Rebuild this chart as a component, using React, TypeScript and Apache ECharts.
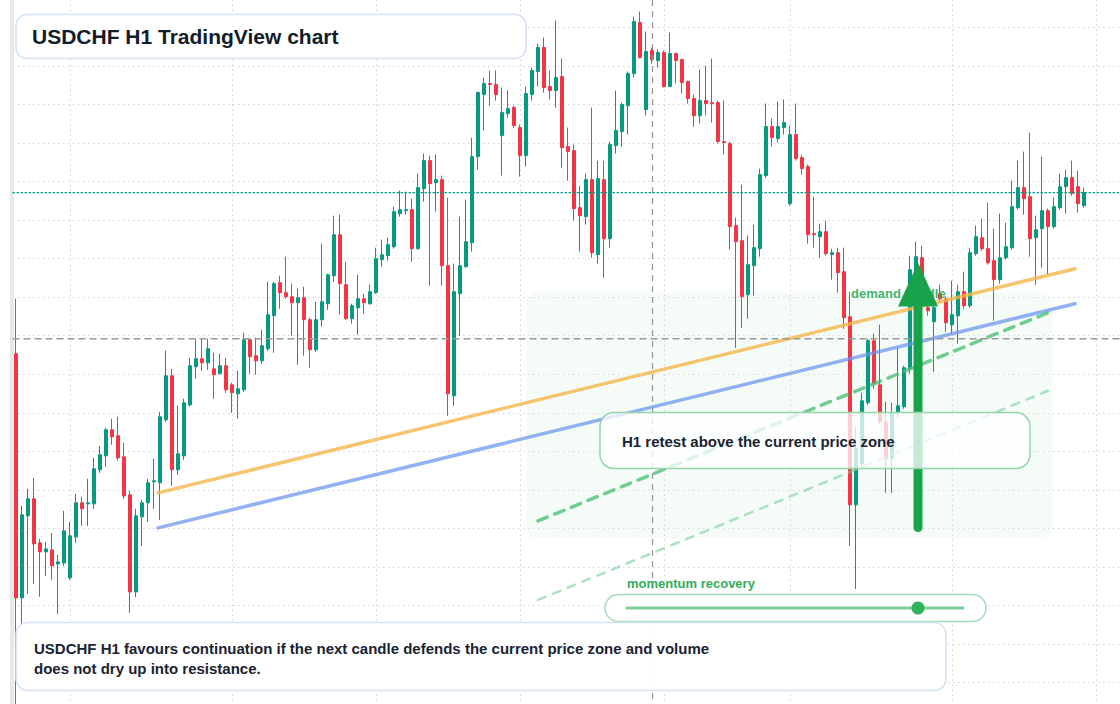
import React, { useEffect, useRef } from "react";
import * as echarts from "echarts";

// ---- candle data (USDCHF H1), one value per candle ----
const openP = [
  0.79677, 0.79433, 0.79515, 0.79532, 0.79488, 0.79479, 0.79481, 0.79467, 0.79468, 0.79453,
  0.79494, 0.79528, 0.79527, 0.79527, 0.79561, 0.79575, 0.79601, 0.79595, 0.79574, 0.79536,
  0.79439, 0.79514, 0.79528, 0.79549, 0.79548, 0.79611, 0.79655, 0.79561, 0.79575, 0.79626,
  0.79664, 0.79672, 0.79668, 0.79662, 0.79657, 0.79665, 0.79646, 0.79637, 0.79641, 0.79691,
  0.79675, 0.7967, 0.79682, 0.79715, 0.79748, 0.79738, 0.79734, 0.79728, 0.79733, 0.79711,
  0.79681, 0.79711, 0.79727, 0.79755, 0.79796, 0.79746, 0.79712, 0.79723, 0.79732, 0.79727,
  0.79738, 0.79771, 0.79775, 0.79784, 0.79817, 0.7982, 0.79821, 0.79782, 0.79842, 0.7987,
  0.79848, 0.79851, 0.79765, 0.79635, 0.79737, 0.79764, 0.79788, 0.79874, 0.79936, 0.79947,
  0.79946, 0.79895, 0.79917, 0.79923, 0.79903, 0.79875, 0.79936, 0.79959, 0.79983, 0.79944,
  0.7994, 0.79954, 0.79884, 0.7988, 0.79823, 0.79814, 0.79851, 0.79776, 0.79851, 0.79792,
  0.79885, 0.79899, 0.79925, 0.79957, 0.80008, 0.79921, 0.7998, 0.7997, 0.79978, 0.79944,
  0.79977, 0.79971, 0.79949, 0.79932, 0.79915, 0.7993, 0.79928, 0.79928, 0.79889, 0.79887,
  0.79805, 0.7979, 0.79736, 0.79765, 0.79782, 0.79855, 0.79904, 0.79892, 0.79903, 0.79827,
  0.79896, 0.79873, 0.79864, 0.79797, 0.79794, 0.79799, 0.79776, 0.79778, 0.79759, 0.79714,
  0.79526, 0.79567, 0.79628, 0.7969, 0.79646, 0.79609, 0.79572, 0.79618, 0.79624, 0.79662,
  0.7973, 0.79773, 0.79723, 0.79709, 0.79737, 0.79732, 0.79706, 0.79715, 0.79739, 0.79725,
  0.79777, 0.79793, 0.79782, 0.7977, 0.79751, 0.79773, 0.79783, 0.79823, 0.79843, 0.79834,
  0.79793, 0.79802, 0.7982, 0.79804, 0.79823, 0.79844, 0.79853, 0.79844, 0.79825,
];
const closeP = [
  0.79433, 0.79516, 0.79532, 0.79487, 0.79479, 0.79482, 0.79465, 0.79469, 0.795, 0.79495,
  0.79528, 0.79522, 0.79528, 0.79562, 0.79576, 0.79601, 0.79594, 0.79573, 0.79535, 0.79439,
  0.79515, 0.79528, 0.79548, 0.7955, 0.79614, 0.79655, 0.79561, 0.79577, 0.79628, 0.79665,
  0.79672, 0.79668, 0.79682, 0.79656, 0.79665, 0.79641, 0.79638, 0.79642, 0.79691, 0.79674,
  0.7967, 0.79685, 0.79716, 0.79747, 0.79738, 0.79734, 0.79728, 0.79733, 0.79711, 0.79681,
  0.79711, 0.79729, 0.79756, 0.79796, 0.79747, 0.79712, 0.79725, 0.79732, 0.79728, 0.79739,
  0.79772, 0.79776, 0.79786, 0.79819, 0.79821, 0.79821, 0.79782, 0.79843, 0.7987, 0.79847,
  0.79851, 0.79765, 0.79637, 0.79739, 0.79765, 0.79789, 0.79874, 0.79938, 0.79947, 0.79946,
  0.79936, 0.79918, 0.79922, 0.79905, 0.79875, 0.79937, 0.7996, 0.79983, 0.79943, 0.7994,
  0.79953, 0.79883, 0.79879, 0.79822, 0.79815, 0.79851, 0.79778, 0.79852, 0.79792, 0.79886,
  0.799, 0.79926, 0.79957, 0.80009, 0.79973, 0.79979, 0.79971, 0.79978, 0.79944, 0.79977,
  0.7997, 0.79948, 0.79932, 0.79915, 0.7993, 0.79927, 0.79927, 0.79889, 0.79888, 0.79804,
  0.79789, 0.79734, 0.79766, 0.79783, 0.79856, 0.79904, 0.79893, 0.79904, 0.79908, 0.79896,
  0.79872, 0.79862, 0.79796, 0.79796, 0.79799, 0.79777, 0.79778, 0.79758, 0.79713, 0.79526,
  0.79582, 0.7963, 0.7969, 0.79647, 0.79609, 0.79572, 0.79618, 0.79625, 0.79663, 0.79761,
  0.79774, 0.7973, 0.7972, 0.79723, 0.79732, 0.79708, 0.79716, 0.79739, 0.79725, 0.79778,
  0.79794, 0.79782, 0.79768, 0.79751, 0.79773, 0.79784, 0.79824, 0.79843, 0.79832, 0.79792,
  0.79801, 0.7982, 0.79804, 0.79824, 0.79844, 0.79853, 0.79837, 0.79827, 0.79838,
];
const lowP = [
  0.79322, 0.79407, 0.79437, 0.79447, 0.79434, 0.79455, 0.79451, 0.79417, 0.79465, 0.79451,
  0.79488, 0.79505, 0.79505, 0.79522, 0.79558, 0.79564, 0.79586, 0.7957, 0.79532, 0.79418,
  0.79434, 0.79485, 0.79509, 0.79522, 0.79511, 0.79609, 0.79545, 0.79556, 0.79571, 0.79624,
  0.79652, 0.7966, 0.79661, 0.79632, 0.79657, 0.79638, 0.79618, 0.79612, 0.79639, 0.79657,
  0.79656, 0.79667, 0.7968, 0.79678, 0.79722, 0.79732, 0.79695, 0.79666, 0.79675, 0.79663,
  0.79679, 0.79704, 0.79721, 0.79749, 0.79716, 0.79711, 0.79707, 0.79696, 0.79717, 0.79726,
  0.79737, 0.79764, 0.7977, 0.79782, 0.79814, 0.79816, 0.79769, 0.79781, 0.79829, 0.79745,
  0.79819, 0.79745, 0.79615, 0.79625, 0.79695, 0.79763, 0.79779, 0.79861, 0.799, 0.79925,
  0.7993, 0.79855, 0.79913, 0.79903, 0.79854, 0.79864, 0.7993, 0.79944, 0.79938, 0.79931,
  0.79923, 0.79863, 0.7985, 0.7981, 0.79779, 0.79806, 0.79773, 0.79767, 0.79753, 0.79783,
  0.79877, 0.79884, 0.79896, 0.79953, 0.79972, 0.79915, 0.79967, 0.79963, 0.79943, 0.79944,
  0.79947, 0.79937, 0.79927, 0.79904, 0.79907, 0.79915, 0.79908, 0.79887, 0.79876, 0.79781,
  0.79683, 0.79703, 0.79712, 0.79735, 0.79774, 0.79853, 0.79884, 0.79888, 0.79896, 0.79825,
  0.7987, 0.79856, 0.79787, 0.79783, 0.79773, 0.79775, 0.79751, 0.79738, 0.79702, 0.79485,
  0.79442, 0.79564, 0.79626, 0.79642, 0.79607, 0.79538, 0.79538, 0.79613, 0.79622, 0.79657,
  0.7972, 0.79718, 0.79715, 0.79659, 0.7973, 0.79699, 0.79697, 0.79687, 0.79722, 0.79723,
  0.79775, 0.7978, 0.79766, 0.7971, 0.79747, 0.79771, 0.79781, 0.79821, 0.79816, 0.79774,
  0.79746, 0.79763, 0.79756, 0.79802, 0.79821, 0.79817, 0.79835, 0.79818, 0.79823,
];
const highP = [
  0.79732, 0.79525, 0.79542, 0.79553, 0.79492, 0.79489, 0.79498, 0.79476, 0.7952, 0.79509,
  0.79537, 0.79534, 0.79552, 0.79573, 0.79585, 0.79603, 0.79612, 0.79614, 0.79588, 0.7954,
  0.79522, 0.79531, 0.79552, 0.79572, 0.79619, 0.7968, 0.79662, 0.79625, 0.79632, 0.79673,
  0.79692, 0.79692, 0.79692, 0.79678, 0.79677, 0.79673, 0.79648, 0.7966, 0.79698, 0.79692,
  0.79693, 0.79701, 0.79749, 0.79749, 0.79755, 0.79774, 0.79747, 0.79742, 0.79744, 0.79713,
  0.79729, 0.79787, 0.79757, 0.79815, 0.79816, 0.79769, 0.79727, 0.79756, 0.79737, 0.79746,
  0.79783, 0.79791, 0.79793, 0.79824, 0.7984, 0.79839, 0.79832, 0.79857, 0.79877, 0.79875,
  0.79876, 0.79855, 0.79833, 0.79767, 0.79814, 0.79831, 0.79893, 0.79939, 0.79953, 0.7996,
  0.7996, 0.79943, 0.7994, 0.79925, 0.79906, 0.79944, 0.79963, 0.79987, 0.79993, 0.7996,
  0.8001, 0.79972, 0.79903, 0.79886, 0.79845, 0.79857, 0.79923, 0.7987, 0.7987, 0.79889,
  0.7994, 0.79928, 0.79959, 0.80014, 0.80019, 0.79999, 0.79983, 0.79981, 0.7998, 0.79998,
  0.79978, 0.79972, 0.7995, 0.79936, 0.79961, 0.79965, 0.79972, 0.7993, 0.7993, 0.79889,
  0.79813, 0.79846, 0.79795, 0.79806, 0.79862, 0.79927, 0.79912, 0.79929, 0.79931, 0.79905,
  0.79927, 0.79876, 0.79866, 0.79834, 0.79807, 0.7981, 0.79782, 0.79783, 0.79783, 0.79739,
  0.79604, 0.79638, 0.79692, 0.79697, 0.79706, 0.79629, 0.79628, 0.79683, 0.79665, 0.79775,
  0.79789, 0.79785, 0.79727, 0.7973, 0.79746, 0.79734, 0.7975, 0.79746, 0.79759, 0.79783,
  0.79805, 0.79812, 0.79828, 0.79802, 0.79817, 0.79808, 0.7985, 0.7987, 0.79879, 0.79898,
  0.79815, 0.79874, 0.79822, 0.79833, 0.79857, 0.79861, 0.7987, 0.7986, 0.79843,
];

// hourly slots (candles plus empty slots to the right edge)
const SLOT_COUNT = 185;
const hourSlots = Array.from({ length: SLOT_COUNT }, (_, i) => `H${i}`);

// session separators (slot index), crosshair and last price
const sessionBreaks = [9, 36, 60, 84, 108, 129, 156, 180];
const crosshairSlot = 106;
const crosshairPrice = 0.79692;
const lastPrice = 0.79838;

// price axis range and grid step
const PRICE_MIN = 0.7931;
const PRICE_MAX = 0.800415;
const PRICE_STEP = 0.000385;

// drawn trend lines: [slot, price]
const orangeTrend = [[23.67, 0.79538], [176.5, 0.79762]];
const blueTrend = [[23.67, 0.79503], [176.5, 0.79727]];
const channelUpper = [[87, 0.7951], [172, 0.79718]];
const channelLower = [[87, 0.79431], [172, 0.7964]];

const FONT = "'Liberation Sans', Arial, Helvetica, sans-serif";
const UP = "#089981";
const DOWN = "#f23645";

// the chart box starts above the visible page so the price grid lines fall on whole steps
const DY = 11.5;

const candleData = openP.map((o, i) => [o, closeP[i], lowP[i], highP[i]]);

function lineSeries(data: number[][], color: string, width: number, type: any, z: number) {
  return {
    type: "line",
    xAxisIndex: 1,
    yAxisIndex: 0,
    data,
    symbol: "none",
    silent: true,
    z,
    lineStyle: { color, width, type, cap: "round" },
  };
}

const priceLevel = (p: number) => [
  [-0.5, p],
  [SLOT_COUNT - 0.5, p],
];

const textStyle = (text: string, x: number, y: number, size: number, fill: string) => ({
  text,
  x,
  y: y + DY,
  font: `bold ${size}px ${FONT}`,
  fill,
  verticalAlign: "middle",
  textVerticalAlign: "middle",
});

const option: any = {
  animation: false,
  backgroundColor: "#ffffff",
  grid: { left: 13, right: 0, top: 0, bottom: 0, containLabel: false },
  xAxis: [
    {
      type: "category",
      data: hourSlots,
      boundaryGap: true,
      axisLine: { show: false },
      axisTick: { show: false },
      axisLabel: { show: false },
      splitLine: { show: false },
    },
    { type: "value", min: -0.5, max: SLOT_COUNT - 0.5, show: false },
  ],
  yAxis: {
    type: "value",
    min: PRICE_MIN,
    max: PRICE_MAX,
    interval: PRICE_STEP,
    offset: 1,
    axisLine: { show: true, onZero: false, lineStyle: { color: "#e8e8e8", width: 4 } },
    axisTick: { show: false },
    axisLabel: { show: false },
    splitLine: { show: true, lineStyle: { color: "#d2d2d2", width: 1, type: [1.5, 3.5] } },
  },
  series: [
    {
      type: "line",
      name: "sessions",
      xAxisIndex: 1,
      data: [],
      silent: true,
      markLine: {
        z: 1,
        silent: true,
        symbol: ["none", "none"],
        label: { show: false },
        lineStyle: { color: "#d2d2d2", width: 1, type: [1.5, 3.5] },
        data: sessionBreaks.map((v) => ({ xAxis: v })),
      },
    },
    {
      type: "candlestick",
      name: "USDCHF",
      xAxisIndex: 0,
      yAxisIndex: 0,
      data: candleData,
      barWidth: 4,
      z: 2,
      itemStyle: {
        color: UP,
        color0: DOWN,
        borderColor: UP,
        borderColor0: DOWN,
        borderWidth: 1,
      },
    },
    lineSeries(orangeTrend, "rgba(245,181,70,0.78)", 3.5, "solid", 3),
    lineSeries(blueTrend, "rgba(100,145,240,0.7)", 3.5, "solid", 3),
    lineSeries(channelUpper, "rgba(80,190,120,0.8)", 3.5, [10, 8], 3),
    lineSeries(channelLower, "rgba(120,205,150,0.6)", 2.5, [8, 8], 3),
    lineSeries(priceLevel(crosshairPrice), "#9a9a9a", 1.3, [6, 5], 5),
    lineSeries(priceLevel(lastPrice), UP, 1.2, [1.5, 2.5], 5),
    {
      type: "line",
      name: "crosshair",
      xAxisIndex: 1,
      data: [],
      silent: true,
      markLine: {
        z: 5,
        silent: true,
        symbol: ["none", "none"],
        label: { show: false },
        data: [{ xAxis: crosshairSlot, lineStyle: { color: "#9a9a9a", width: 1.3, type: [6, 5] } }],
      },
    },
  ],
  graphic: [
    {
      type: "rect",
      z: 1,
      silent: true,
      shape: { x: 526, y: 292 + DY, width: 526, height: 246, r: 12 },
      style: { fill: "rgba(225,246,232,0.32)" },
    },
    { type: "text", z: 4, silent: true, style: textStyle("demand candle", 851, 293, 13, "rgba(34,165,80,0.85)") },
    {
      type: "line",
      z: 6,
      silent: true,
      shape: { x1: 918, y1: 527 + DY, x2: 918, y2: 300 + DY },
      style: { stroke: "#18a34a", lineWidth: 9, lineCap: "round" },
    },
    {
      type: "polygon",
      z: 6,
      silent: true,
      shape: { points: [[898, 306 + DY], [938, 306 + DY], [918, 262 + DY]] },
      style: { fill: "#18a34a" },
    },
    {
      type: "rect",
      z: 10,
      silent: true,
      shape: { x: 600, y: 412 + DY, width: 430, height: 56, r: 14 },
      style: { fill: "rgba(255,255,255,0.76)", stroke: "#93d4a8", lineWidth: 1.5 },
    },
    {
      type: "text",
      z: 11,
      silent: true,
      style: textStyle("H1 retest above the current price zone", 622, 441, 15, "#1a2332"),
    },
    { type: "text", z: 11, silent: true, style: textStyle("momentum recovery", 627, 582.5, 13, "#2fae5c") },
    {
      type: "rect",
      z: 10,
      silent: true,
      shape: { x: 605, y: 594 + DY, width: 381, height: 27, r: 13.5 },
      style: { fill: "#ffffff", stroke: "#a6dcb7", lineWidth: 1.5 },
    },
    {
      type: "line",
      z: 11,
      silent: true,
      shape: { x1: 627, y1: 607.5 + DY, x2: 963, y2: 607.5 + DY },
      style: { stroke: "#7fcf99", lineWidth: 3, lineCap: "round" },
    },
    {
      type: "circle",
      z: 12,
      silent: true,
      shape: { cx: 918, cy: 607.5 + DY, r: 6.5 },
      style: { fill: "#2fb35a" },
    },
    {
      type: "rect",
      z: 10,
      silent: true,
      shape: { x: 16, y: 622 + DY, width: 930, height: 68, r: 12 },
      style: { fill: "rgba(255,255,255,0.95)", stroke: "#d3e2f6", lineWidth: 1.5 },
    },
    {
      type: "text",
      z: 11,
      silent: true,
      style: textStyle(
        "USDCHF H1 favours continuation if the next candle defends the current price zone and volume",
        34,
        648,
        15,
        "#1a2332"
      ),
    },
    {
      type: "text",
      z: 11,
      silent: true,
      style: textStyle("does not dry up into resistance.", 34, 668, 15, "#1a2332"),
    },
    {
      type: "rect",
      z: 10,
      silent: true,
      shape: { x: 16, y: 14 + DY, width: 510, height: 44, r: 11 },
      style: { fill: "rgba(255,255,255,0.95)", stroke: "#d3e2f6", lineWidth: 1.5 },
    },
    {
      type: "text",
      z: 11,
      silent: true,
      style: textStyle("USDCHF H1 TradingView chart", 32, 36, 21, "#131c2b"),
    },
  ],
};

export default function App() {
  const ref = useRef<HTMLDivElement>(null);
  useEffect(() => {
    if (!ref.current) return;
    const chart = echarts.init(ref.current, undefined, { renderer: "svg" });
    chart.setOption(option);
    return () => chart.dispose();
  }, []);
  return (
    <div
      ref={ref}
      style={{
        position: "fixed",
        left: 0,
        top: -DY,
        width: 1123,
        height: 731.5,
        background: "#ffffff",
      }}
    />
  );
}
